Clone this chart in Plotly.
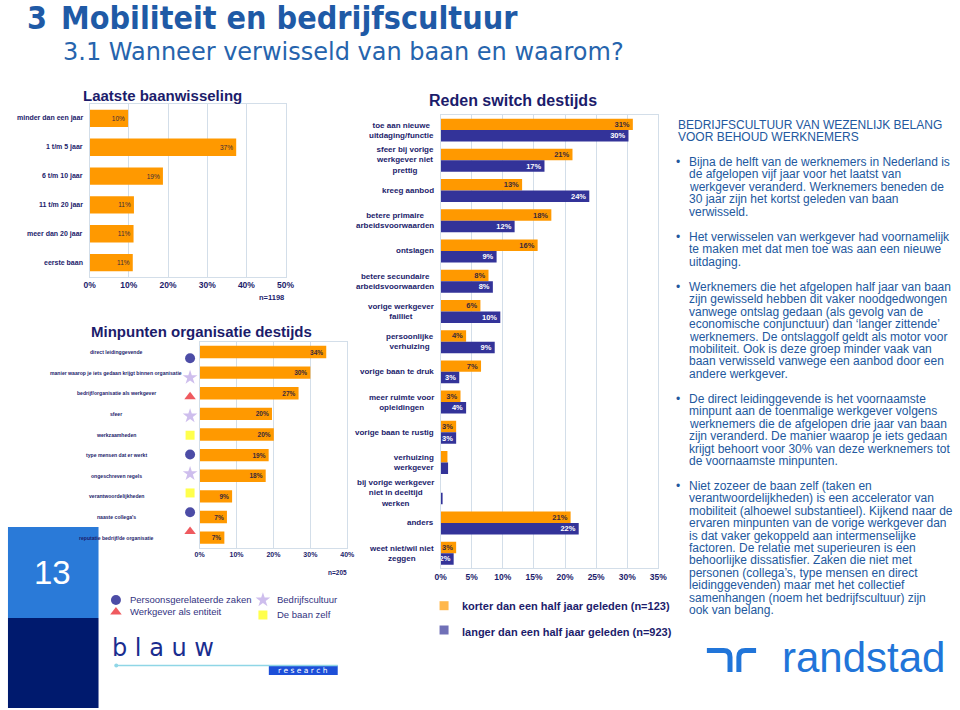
import plotly.graph_objects as go

W, H = 960, 710


def px(x):
    return x / W


def py(y):
    return 1 - y / H


FONT = "Liberation Sans, Arial, sans-serif"
NAVY_TXT = "#1c1c6b"
ORANGE = "#ff9900"
NAVY_BAR = "#333399"
GRID = "#d3dee9"
BLUE_TXT = "#22589e"
LABEL_DARK = "#3a2a3a"

# ---------------- data ----------------
baan_cats = ["minder dan een jaar", "1 t/m 5 jaar", "6 t/m 10 jaar",
             "11 t/m 20 jaar", "meer dan 20 jaar", "eerste baan"]
baan_vals = [9.8, 37.4, 18.7, 11.3, 11.2, 11.0]
baan_labels = ["10%", "37%", "19%", "11%", "11%", "11%"]

min_cats = ["direct leidinggevende",
            "manier waarop je iets gedaan krijgt binnen organisatie",
            "bedrijf/organisatie als werkgever", "sfeer", "werkzaamheden",
            "type mensen dat er werkt", "ongeschreven regels",
            "verantwoordelijkheden", "naaste collega's",
            "reputatie bedrijf/de organisatie"]
min_vals = [34.3, 30.0, 26.8, 19.6, 20.1, 18.7, 17.9, 8.8, 7.4, 6.7]
min_labels = ["34%", "30%", "27%", "20%", "20%", "19%", "18%", "9%", "7%", "7%"]
min_groups = ["persoon", "cultuur", "werkgever", "cultuur", "baan",
              "persoon", "cultuur", "baan", "persoon", "werkgever"]

reden_cats = ["toe aan nieuwe uitdaging/functie",
              "sfeer bij vorige werkgever niet prettig", "kreeg aanbod",
              "betere primaire arbeidsvoorwaarden", "ontslagen",
              "betere secundaire arbeidsvoorwaarden",
              "vorige werkgever failliet", "persoonlijke verhuizing",
              "vorige baan te druk", "meer ruimte voor opleidingen",
              "vorige baan te rustig", "verhuizing werkgever",
              "bij vorige werkgever niet in deeltijd werken", "anders",
              "weet niet/wil niet zeggen"]
reden_ticktext = ["toe aan nieuwe<br>uitdaging/functie",
                  "sfeer bij vorige<br>werkgever niet<br>prettig",
                  "kreeg aanbod",
                  "betere primaire<br>arbeidsvoorwaarden", "ontslagen",
                  "betere secundaire<br>arbeidsvoorwaarden",
                  "vorige werkgever<br>failliet", "persoonlijke<br>verhuizing",
                  "vorige baan te druk", "meer ruimte voor<br>opleidingen",
                  "vorige baan te rustig", "verhuizing<br>werkgever",
                  "bij vorige werkgever<br>niet in deeltijd<br>werken",
                  "anders", "weet niet/wil niet<br>zeggen"]
korter_vals = [30.9, 21.2, 13.1, 17.8, 15.6, 7.7, 6.4, 4.1, 6.5, 3.2, 2.5, 1.1, 0.0, 20.9, 2.5]
korter_labels = ["31%", "21%", "13%", "18%", "16%", "8%", "6%", "4%", "7%",
                 "3%", "3%", "", "", "21%", "3%"]
langer_vals = [30.2, 16.7, 23.9, 11.9, 9.0, 8.4, 9.6, 8.7, 3.0, 4.1, 2.5, 1.2, 0.3, 22.2, 2.1]
langer_labels = ["30%", "17%", "24%", "12%", "9%", "8%", "10%", "9%", "3%",
                 "4%", "3%", "", "", "22%", "2%"]
korter_name = "korter dan een half jaar geleden (n=123)"
langer_name = "langer dan een half jaar geleden (n=923)"

group_style = {
    "persoon": ("circle", "#000080", 10),
    "cultuur": ("star", "#b9a3e6", 11),
    "werkgever": ("triangle-up", "#e8141b", 10),
    "baan": ("square", "#ffff00", 9),
}
group_names = {
    "persoon": "Persoonsgerelateerde zaken",
    "werkgever": "Werkgever als entiteit",
    "cultuur": "Bedrijfscultuur",
    "baan": "De baan zelf",
}

bullets = [
    ["Bijna de helft van de werknemers in Nederland is",
     "de afgelopen vijf jaar voor het laatst van",
     "werkgever veranderd. Werknemers beneden de",
     "30 jaar zijn het kortst geleden van baan",
     "verwisseld."],
    ["Het verwisselen van werkgever had voornamelijk",
     "te maken met dat men toe was aan een nieuwe",
     "uitdaging."],
    ["Werknemers die het afgelopen half jaar van baan",
     "zijn gewisseld hebben dit vaker noodgedwongen",
     "vanwege ontslag gedaan (als gevolg van de",
     "economische conjunctuur) dan \u2018langer zittende\u2019",
     "werknemers. De ontslaggolf geldt als motor voor",
     "mobiliteit. Ook is deze groep minder vaak van",
     "baan verwisseld vanwege een aanbod door een",
     "andere werkgever."],
    ["De direct leidinggevende is het voornaamste",
     "minpunt aan de toenmalige werkgever volgens",
     "werknemers die de afgelopen drie jaar van baan",
     "zijn veranderd. De manier waarop je iets gedaan",
     "krijgt behoort voor 30% van deze werknemers tot",
     "de voornaamste minpunten."],
    ["Niet zozeer de baan zelf (taken en",
     "verantwoordelijkheden) is een accelerator van",
     "mobiliteit (alhoewel substantieel). Kijkend naar de",
     "ervaren minpunten van de vorige werkgever dan",
     "is dat vaker gekoppeld aan intermenselijke",
     "factoren. De relatie met superieuren is een",
     "behoorlijke dissatisfier. Zaken die niet met",
     "personen (collega\u2019s, type mensen en direct",
     "leidinggevenden) maar met het collectief",
     "samenhangen (noem het bedrijfscultuur) zijn",
     "ook van belang."],
]
bullet_start_y = [162, 237, 287, 399, 486]

fig = go.Figure()

# ---------------- chart 1 ----------------
fig.add_trace(go.Bar(
    y=baan_cats, x=baan_vals, orientation="h", xaxis="x", yaxis="y",
    marker=dict(color=ORANGE, line=dict(width=0)), width=0.6,
    text=baan_labels, textposition="inside", insidetextanchor="end",
    constraintext="none", textangle=0,
    textfont=dict(family=FONT, size=6.5, color=LABEL_DARK),
    showlegend=False, hoverinfo="skip"))

# ---------------- chart 2 ----------------
fig.add_trace(go.Bar(
    y=min_cats, x=min_vals, orientation="h", xaxis="x2", yaxis="y2",
    marker=dict(color=ORANGE, line=dict(width=0)), width=0.6,
    text=min_labels, textposition="inside", insidetextanchor="end",
    constraintext="none", textangle=0,
    textfont=dict(family=FONT, size=6.5, color=LABEL_DARK, weight="bold"),
    showlegend=False, hoverinfo="skip"))
# icon column next to chart 2 (own narrow axis sharing the categories)
fig.add_trace(go.Scatter(
    y=min_cats, x=[0.5] * len(min_cats), mode="markers",
    xaxis="x5", yaxis="y5", cliponaxis=False,
    marker=dict(symbol=[group_style[g][0] for g in min_groups],
                color=[group_style[g][1] for g in min_groups],
                size=[group_style[g][2] for g in min_groups],
                line=dict(width=0)),
    showlegend=False, hoverinfo="skip"))

# ---------------- chart 3 ----------------
fig.add_trace(go.Bar(
    y=reden_cats, x=korter_vals, orientation="h", xaxis="x3", yaxis="y3",
    name=korter_name, marker=dict(color=ORANGE, line=dict(width=0)),
    text=korter_labels, textposition="inside", insidetextanchor="end",
    constraintext="none", textangle=0,
    textfont=dict(family=FONT, size=7.5, color=LABEL_DARK, weight="bold"),
    showlegend=False, hoverinfo="skip"))
fig.add_trace(go.Bar(
    y=reden_cats, x=langer_vals, orientation="h", xaxis="x3", yaxis="y3",
    name=langer_name, marker=dict(color=NAVY_BAR, line=dict(width=0)),
    text=langer_labels, textposition="inside", insidetextanchor="end",
    constraintext="none", textangle=0,
    textfont=dict(family=FONT, size=7.5, color="white", weight="bold"),
    showlegend=False, hoverinfo="skip"))

# ---------------- overlay (pixel) axis for legend glyphs ----------------
leg2_pos = {"persoon": (111.7, 600), "werkgever": (111.7, 612),
            "cultuur": (261, 600), "baan": (261, 615)}
leg2_keys = ["persoon", "werkgever", "cultuur", "baan"]
fig.add_trace(go.Scatter(
    x=[leg2_pos[k][0] for k in leg2_keys] + [445, 445],
    y=[leg2_pos[k][1] for k in leg2_keys] + [605.7, 630],
    mode="markers", xaxis="x4", yaxis="y4", cliponaxis=False,
    marker=dict(symbol=[group_style[k][0] for k in leg2_keys] + ["square", "square"],
                color=[group_style[k][1] for k in leg2_keys] + [ORANGE, NAVY_BAR],
                size=[group_style[k][2] for k in leg2_keys] + [9, 9],
                line=dict(width=0)),
    showlegend=False, hoverinfo="skip"))


def xax(domain, rng, dtick, anchor, tsize):
    return dict(domain=domain, range=rng, dtick=dtick, ticksuffix="%",
                anchor=anchor, showgrid=True, gridcolor=GRID, gridwidth=1,
                showline=True, mirror=True, linecolor=GRID, linewidth=1,
                zeroline=False, ticks="", fixedrange=True,
                tickfont=dict(family=FONT, size=tsize, color=NAVY_TXT, weight="bold"))


def yax(domain, anchor, cats):
    return dict(domain=domain, anchor=anchor, type="category",
                categoryorder="array", categoryarray=cats,
                autorange="reversed", showticklabels=False, showgrid=False,
                showline=True, mirror=True, linecolor=GRID, linewidth=1,
                ticks="", fixedrange=True)


y5 = yax([py(548), py(341.7)], "x5", min_cats)
y5.update(showline=False, mirror=False, visible=False)

layout = dict(
    width=W, height=H, margin=dict(l=0, r=0, t=0, b=0),
    paper_bgcolor="white", plot_bgcolor="rgba(0,0,0,0)",
    barmode="group", bargap=0.24, bargroupgap=0,
    showlegend=False,
    xaxis=xax([px(85), px(284)], [0, 50], 10, "y", 8.5),
    yaxis=yax([py(277), py(104)], "x", baan_cats),
    xaxis2=xax([px(196.7), px(346.7)], [0, 40], 10, "y2", 7),
    yaxis2=yax([py(548), py(341.7)], "x2", min_cats),
    xaxis3=xax([px(441.5), px(662.7)], [0, 35], 5, "y3", 8.5),
    yaxis3=yax([py(568.3), py(115)], "x3", reden_cats),
    xaxis4=dict(domain=[0, 1], range=[0, W], visible=False, anchor="y4", fixedrange=True),
    yaxis4=dict(domain=[0, 1], range=[H, 0], visible=False, anchor="x4", fixedrange=True),
    xaxis5=dict(domain=[px(180), px(194)], range=[0, 1], visible=False, anchor="y5",
                fixedrange=True),
    yaxis5=y5,
)

annotations = []


def ann(text, x, y, size, color, xanchor="left", yanchor="middle",
        family=FONT, align="left", xref="paper", yref="paper", weight="normal"):
    annotations.append(dict(text=text, x=x, y=y, xref=xref, yref=yref,
                            xanchor=xanchor, yanchor=yanchor, align=align,
                            showarrow=False,
                            font=dict(family=family, size=size, color=color, weight=weight)))


# page titles
ann("3", px(19), py(18), 32, "#1f5aa6", family="DejaVu Sans Condensed, DejaVu Sans",
    weight="bold")
ann("Mobiliteit en bedrijfscultuur", px(54), py(18), 32, "#1f5aa6",
    family="DejaVu Sans Condensed, DejaVu Sans", weight="bold")
ann("3.1 Wanneer verwisseld van baan en waarom?", px(56), py(52), 24, "#2664ad",
    family="DejaVu Sans")

# chart titles
ann("Laatste baanwisseling", px(159), py(95), 15, NAVY_TXT, xanchor="center", weight="bold")
ann("Minpunten organisatie destijds", px(199), py(331), 15, NAVY_TXT, xanchor="center",
    weight="bold")
ann("Reden switch destijds", px(515), py(100), 16, NAVY_TXT, xanchor="center", weight="bold")

# category labels
for c in baan_cats:
    ann(c, px(80), c, 7, NAVY_TXT, xanchor="right", yref="y", weight="bold")
for c in min_cats:
    ann(c, px(112), c, 5.1, NAVY_TXT, xanchor="center", yref="y2", weight="bold")
for c, t in zip(reden_cats, reden_ticktext):
    ann(t, px(437), c, 8, NAVY_TXT, xanchor="right", align="center", yref="y3",
        weight="bold")

# n-values
ann("n=1198", px(270), py(297), 7.5, NAVY_TXT, xanchor="center", weight="bold")
ann("n=205", px(337), py(572), 6.5, NAVY_TXT, xanchor="center", weight="bold")

# chart 2 legend text
for k in leg2_keys:
    gx, gy = leg2_pos[k]
    ann(group_names[k], px(gx + 12), py(gy - 1), 9.5, "#33337f")

# chart 3 legend text
ann(korter_name, px(461.7), py(606), 11, NAVY_TXT, weight="bold")
ann(langer_name, px(461.7), py(632), 11, NAVY_TXT, weight="bold")

# right column text
ann("BEDRIJFSCULTUUR VAN WEZENLIJK BELANG", px(681), py(125), 12, BLUE_TXT)
ann("VOOR BEHOUD WERKNEMERS", px(681), py(137), 12, BLUE_TXT)
LINE = 12.4
for lines, y0 in zip(bullets, bullet_start_y):
    ann("\u2022", px(683), py(y0), 12, BLUE_TXT, xanchor="center")
    for i, line in enumerate(lines):
        ann(line, px(691.5), py(y0 + i * LINE), 12, BLUE_TXT)

# page number
ann("13", px(47), py(572), 33, "white", xanchor="center")

# blauw research logo
ann("b\u00a0l\u00a0a\u00a0u\u00a0w", px(106), py(648), 24, "#1a2d8f",
    family="DejaVu Sans")
ann("r\u00a0e\u00a0s\u00a0e\u00a0a\u00a0r\u00a0c\u00a0h", px(302), py(670.5), 7.5, "white",
    xanchor="center", family="DejaVu Sans")

# randstad
ann("randstad", px(786), py(657), 42, "#2175d9", family="Liberation Sans")

layout["annotations"] = annotations

shapes = [
    dict(type="rect", xref="x4", yref="y4", x0=2, x1=94, y0=527, y1=618,
         fillcolor="#2a7ad8", line=dict(width=0), layer="below"),
    dict(type="rect", xref="x4", yref="y4", x0=2, x1=94, y0=618, y1=708,
         fillcolor="#001a6e", line=dict(width=0), layer="below"),
    dict(type="line", xref="x4", yref="y4", x0=112, x1=337, y0=665.5, y1=665.5,
         line=dict(color="#8fd6e6", width=1.5)),
    dict(type="circle", xref="x4", yref="y4", x0=110, x1=114, y0=663.5, y1=667.5,
         fillcolor="#8fd6e6", line=dict(width=0)),
    dict(type="rect", xref="x4", yref="y4", x0=267, x1=337, y0=665.5, y1=675,
         fillcolor="#1d4fd8", line=dict(width=0), layer="below"),
    dict(type="path", xref="x4", yref="y4",
         path="M 712 650.5 L 729 650.5 Q 735.5 650.5 735.5 657 L 735.5 672",
         line=dict(color="#2175d9", width=5)),
    dict(type="path", xref="x4", yref="y4",
         path="M 762 650.5 L 751 650.5 Q 744.5 650.5 744.5 657 L 744.5 672",
         line=dict(color="#2175d9", width=5)),
]
layout["shapes"] = shapes

fig.update_layout(**layout)
fig.write_html("out.html")
